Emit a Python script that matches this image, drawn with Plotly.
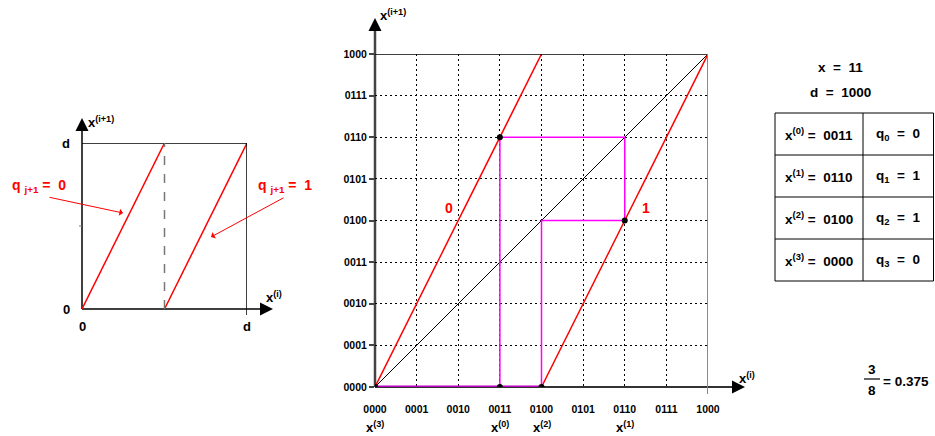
import plotly.graph_objects as go

W, H = 935, 436
FONT = "Liberation Sans"

# ---- data -------------------------------------------------------------
# binary tick labels of the main panel (units of 0001, d = 1000 = 8)
bin_ticks = [0, 1, 2, 3, 4, 5, 6, 7, 8]
bin_labels = ["0000", "0001", "0010", "0011", "0100", "0101", "0110", "0111", "1000"]

# remainders x(0..3) and quotient bits q(0..3)
x_iter = [3, 6, 4, 0]
x_iter_bin = ["0011", "0110", "0100", "0000"]
q_bits = [0, 1, 1, 0]

# the two branches of the doubling map and the identity line
branch0_x, branch0_y = [0, 4], [0, 8]
branch1_x, branch1_y = [4, 8], [0, 8]
diag_x, diag_y = [0, 8], [0, 8]

# small schematic panel: normalised to d = 1
sch_b0_x, sch_b0_y = [0, 0.5], [0, 1]
sch_b1_x, sch_b1_y = [0.5, 1], [0, 1]


def px(x):
    return x / W


def py(y):
    return 1 - y / H


RED = "#ff0000"
MAG = "#ff00ff"
MAG_D = "#c000c0"

fig = go.Figure()

# ---- schematic panel (axes x / y) ------------------------------------
fig.add_trace(go.Scatter(x=sch_b0_x, y=sch_b0_y, mode="lines",
                         line=dict(color=RED, width=1.5), xaxis="x", yaxis="y"))
fig.add_trace(go.Scatter(x=sch_b1_x, y=sch_b1_y, mode="lines",
                         line=dict(color=RED, width=1.5), xaxis="x", yaxis="y"))

# ---- main panel (axes x2 / y2) ---------------------------------------
fig.add_trace(go.Scatter(x=diag_x, y=diag_y, mode="lines",
                         line=dict(color="black", width=1), xaxis="x2", yaxis="y2"))
fig.add_trace(go.Scatter(x=branch0_x, y=branch0_y, mode="lines",
                         line=dict(color=RED, width=1.5), xaxis="x2", yaxis="y2"))
fig.add_trace(go.Scatter(x=branch1_x, y=branch1_y, mode="lines",
                         line=dict(color=RED, width=1.5), xaxis="x2", yaxis="y2"))

# cobweb path built from the remainder sequence
cx, cy = [x_iter[0]], [0]
for a, b in zip(x_iter[:-1], x_iter[1:]):
    cx += [a, b]
    cy += [b, b]
# last step drops to the axis: keep only the vertical part here
cob_x, cob_y = cx[:-1] + [x_iter[-2]], cy[:-1] + [0]
fig.add_trace(go.Scatter(x=cob_x, y=cob_y, mode="lines",
                         line=dict(color=MAG, width=1.5), xaxis="x2", yaxis="y2"))
fig.add_trace(go.Scatter(x=[x_iter[-1], x_iter[-2]], y=[0, 0], mode="lines",
                         line=dict(color=MAG_D, width=3), xaxis="x2", yaxis="y2"))

dots_x = [x_iter[0]] + x_iter[:-1] + [x_iter[-1]]
dots_y = [0] + x_iter[1:] + [0]
fig.add_trace(go.Scatter(x=dots_x, y=dots_y, mode="markers",
                         marker=dict(color="black", size=6), xaxis="x2", yaxis="y2"))

shapes = []
ann = []

# schematic frame
shapes += [
    dict(type="line", xref="x", yref="y", x0=0, x1=1, y0=1, y1=1,
         line=dict(color="black", width=1.5)),
    dict(type="line", xref="x", yref="paper", x0=1, x1=1, y0=py(315), y1=py(143),
         line=dict(color="black", width=1.5)),
    dict(type="line", xref="x", yref="y", x0=0.5, x1=0.5, y0=0, y1=1,
         line=dict(color="#777777", width=1.5, dash="dash")),
    dict(type="line", xref="paper", yref="y", x0=px(79), x1=px(82), y0=0.5, y1=0.5,
         line=dict(color="#777777", width=1)),
    dict(type="line", xref="paper", yref="paper", x0=px(82), x1=px(268),
         y0=py(309), y1=py(309), line=dict(color="black", width=1.5), layer="between"),
    dict(type="line", xref="paper", yref="paper", x0=px(82), x1=px(82),
         y0=py(309), y1=py(124), line=dict(color="black", width=1.5), layer="between"),
]

# main frame and axes
shapes += [
    dict(type="line", xref="x2", yref="y2", x0=0, x1=8, y0=8, y1=8,
         line=dict(color="black", width=1.5)),
    dict(type="line", xref="x2", yref="paper", x0=8, x1=8, y0=py(394), y1=py(54),
         line=dict(color="#8a8a8a", width=2)),
    dict(type="line", xref="paper", yref="paper", x0=px(375), x1=px(738),
         y0=py(387), y1=py(387), line=dict(color="#333333", width=2), layer="between"),
    dict(type="line", xref="paper", yref="paper", x0=px(375), x1=px(375),
         y0=py(387), y1=py(26), line=dict(color="#444444", width=2.5), layer="between"),
]

# axis arrowheads
for (tx, ty, ax, ay) in [(273, 309, -10, 0), (82, 118, 0, 10),
                         (745, 387, -10, 0), (375, 18, 0, 10)]:
    ann.append(dict(xref="paper", yref="paper", x=px(tx), y=py(ty), ax=ax, ay=ay,
                    text="", showarrow=True, arrowhead=2, arrowsize=1.3,
                    arrowwidth=2, arrowcolor="black", standoff=0))

bold = dict(family=FONT, color="black", size=13, weight="bold")
tbl = dict(family=FONT, color="black", size=13.5, weight="bold")
redf = dict(family=FONT, color=RED, size=14, weight="bold")


def label(x, y, text, font, xref="paper", yref="paper", xanchor="center"):
    """Plain text annotation with explicit anchoring."""
    return dict(xref=xref, yref=yref, x=x, y=y, text=text, showarrow=False,
                xanchor=xanchor, yanchor="middle", font=font)


# axis titles
ann += [
    label(px(86), py(122), "x<sup>(i+1)</sup>", bold, xanchor="left"),
    label(px(264), py(297), "x<sup>(i)</sup>", bold, xanchor="left"),
    label(px(378), py(15), "x<sup>(i+1)</sup>", bold, xanchor="left"),
    label(px(737), py(378), "x<sup>(i)</sup>", bold, xanchor="left"),
]

# schematic tick labels
for v, t in [(0, "0"), (1, "d")]:
    ann.append(label(v, py(326), t, bold, xref="x"))
    ann.append(label(px(66), v, t, bold, yref="y"))

# quotient-bit callouts
ann += [
    label(px(39), py(186), "q <sub>j+1</sub> =  0", redf),
    label(px(285), py(186), "q <sub>j+1</sub> =  1", redf),
    dict(xref="paper", yref="paper", x=px(123), y=py(213), ax=-75, ay=-16, text="",
         showarrow=True, arrowhead=1, arrowsize=1.2, arrowwidth=1, arrowcolor=RED, standoff=0),
    dict(xref="paper", yref="paper", x=px(211), y=py(237), ax=74, ay=-40, text="",
         showarrow=True, arrowhead=1, arrowsize=1.2, arrowwidth=1, arrowcolor=RED, standoff=0),
]

# branch labels in main panel
ann += [
    label(1.78, 4.3, "0", redf, xref="x2", yref="y2"),
    label(6.5, 4.3, "1", redf, xref="x2", yref="y2"),
]

# iterate labels under the axis
for k, xv in enumerate(x_iter):
    ann.append(label(xv, py(427), f"x<sup>({k})</sup>", bold, xref="x2"))

# side panel: operands and table of remainders / quotient bits
ann += [
    label(px(840), py(67), "x  =  11", tbl),
    label(px(840), py(92), "d  =  1000", tbl),
]
t_left, t_mid, t_right, t_top, row_h = 775, 863, 933.5, 113, 42
for r in range(5):
    yy = t_top + r * row_h
    shapes.append(dict(type="line", xref="paper", yref="paper", x0=px(t_left), x1=px(t_right),
                       y0=py(yy), y1=py(yy), line=dict(color="black", width=1)))
for xx in (t_left, t_mid, t_right):
    shapes.append(dict(type="line", xref="paper", yref="paper", x0=px(xx), x1=px(xx),
                       y0=py(t_top), y1=py(t_top + 4 * row_h), line=dict(color="black", width=1)))
for k in range(4):
    yc = t_top + (k + 0.5) * row_h
    ann.append(label(px(819), py(yc), f"x<sup>({k})</sup> =  {x_iter_bin[k]}", tbl))
    ann.append(label(px(898), py(yc), f"q<sub>{k}</sub>  =  {q_bits[k]}", tbl))

# quotient value
ann += [
    label(px(872), py(369), "3", tbl),
    label(px(872), py(390), "8", tbl),
    label(px(881), py(381), "= 0.375", tbl, xanchor="left"),
]
shapes.append(dict(type="line", xref="paper", yref="paper", x0=px(864), x1=px(880),
                   y0=py(379), y1=py(379), line=dict(color="black", width=1.2)))

tickfont = dict(family=FONT, size=10.5, color="black", weight="bold")
grid = dict(showgrid=True, gridcolor="black", griddash="1.5px,3.5px", gridwidth=1,
            zeroline=False, showline=False, range=[0, 8], fixedrange=True, automargin=False)

fig.update_layout(
    template="none",
    width=W, height=H, margin=dict(l=0, r=0, t=0, b=0, pad=0, autoexpand=False),
    paper_bgcolor="white", plot_bgcolor="white", showlegend=False,
    xaxis=dict(domain=[px(82), px(247)], range=[0, 1], showgrid=False, zeroline=False,
               showline=False, showticklabels=False, ticks="", automargin=False),
    yaxis=dict(domain=[py(309), py(143)], range=[0, 1], showgrid=False, zeroline=False,
               showline=False, showticklabels=False, ticks="", automargin=False),
    xaxis2=dict(domain=[px(375), px(708)], anchor="y2", tickvals=bin_ticks, ticktext=bin_labels,
                ticks="outside", ticklen=12, tickcolor="rgba(0,0,0,0)", tickfont=tickfont, **grid),
    yaxis2=dict(domain=[py(387), py(54)], anchor="x2", tickvals=bin_ticks, ticktext=bin_labels,
                ticks="outside", ticklen=5, tickcolor="#444444", tickwidth=1.5,
                tickfont=tickfont, **grid),
    shapes=shapes, annotations=ann,
)

fig.write_html(
    "out.html",
    config={"displayModeBar": False},
    post_script="document.body.style.margin='0';",
)
